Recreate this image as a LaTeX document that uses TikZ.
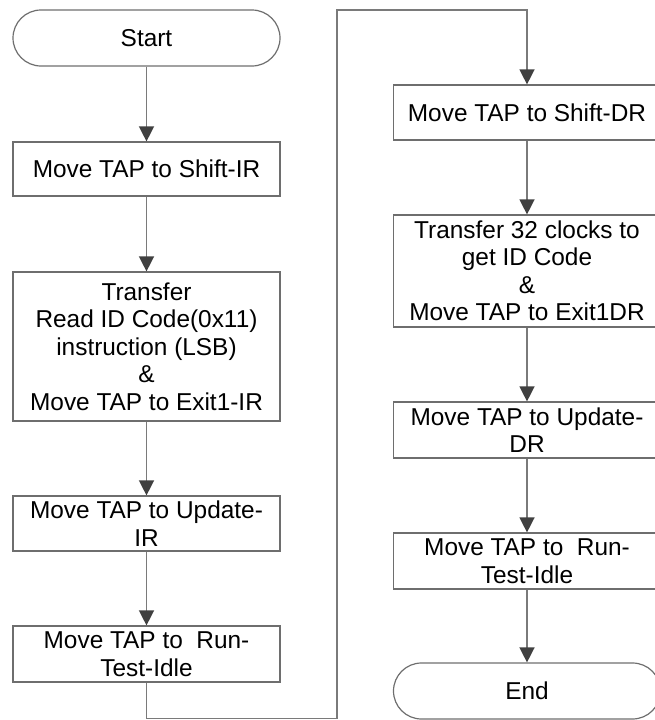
\documentclass[tikz,border=0pt]{standalone}
\usepackage{fontspec}
\setmainfont{Liberation Sans}
\usetikzlibrary{arrows.meta}
\definecolor{boxline}{HTML}{6E6E6E}
\definecolor{flowline}{HTML}{7A7A7A}
\definecolor{tipfill}{HTML}{404040}
\begin{document}
\begin{tikzpicture}[x=1pt,y=-1pt]
        \tikzstyle{stepbox}=[rectangle, draw=boxline, line width=1.2pt, minimum width=267pt, inner sep=0pt, align=center, font=\fontsize{24.4}{27.5}\selectfont]
        \tikzstyle{termnode}=[stepbox, rounded corners=28pt, minimum height=56pt]
        \tikzstyle{flow}=[draw=flowline, line width=1.4pt, -{Triangle[width=15pt,length=15pt,fill=tipfill,color=tipfill]}]
        \useasboundingbox (0,0) rectangle (654,720);
        % left column
        \node[termnode] (start) at (146.5,38) {Start};
        \node[stepbox, minimum height=54pt] (shiftir) at (146.5,169) {Move TAP to Shift-IR};
        \node[stepbox, minimum height=149pt] (transir) at (146.5,346.5) {Transfer\\Read ID Code(0x11)\\instruction (LSB)\\\&\\Move TAP to Exit1-IR};
        \node[stepbox, minimum height=55pt] (updir) at (146.5,523.5) {Move TAP to Update-\\IR};
        \node[stepbox, minimum height=56pt] (rtiir) at (146.5,654) {Move TAP to\ \ Run-\\Test-Idle};
        % right column
        \node[stepbox, minimum height=55pt] (shiftdr) at (527,112.5) {Move TAP to Shift-DR};
        \node[stepbox, minimum height=112pt] (transdr) at (527,271) {Transfer 32 clocks to\\get ID Code\\\&\\Move TAP to Exit1DR};
        \node[stepbox, minimum height=56pt] (upddr) at (527,430) {Move TAP to Update-\\DR};
        \node[stepbox, minimum height=56pt] (rtidr) at (527,561) {Move TAP to\ \ Run-\\Test-Idle};
        \node[termnode] (stop) at (527,691) {End};
        % connectors
        \path[flow] (start) edge (shiftir);
        \path[flow] (shiftir) edge (transir);
        \path[flow] (transir) edge (updir);
        \path[flow] (updir) edge (rtiir);
        \coordinate (turnlow) at (337,718.5);
        \coordinate (turnhigh) at (527,10);
        \draw[flow] (rtiir) |- (turnlow) |- (turnhigh) -- (shiftdr);
        \path[flow] (shiftdr) edge (transdr);
        \path[flow] (transdr) edge (upddr);
        \path[flow] (upddr) edge (rtidr);
        \path[flow] (rtidr) edge (stop);
\end{tikzpicture}
\end{document}
